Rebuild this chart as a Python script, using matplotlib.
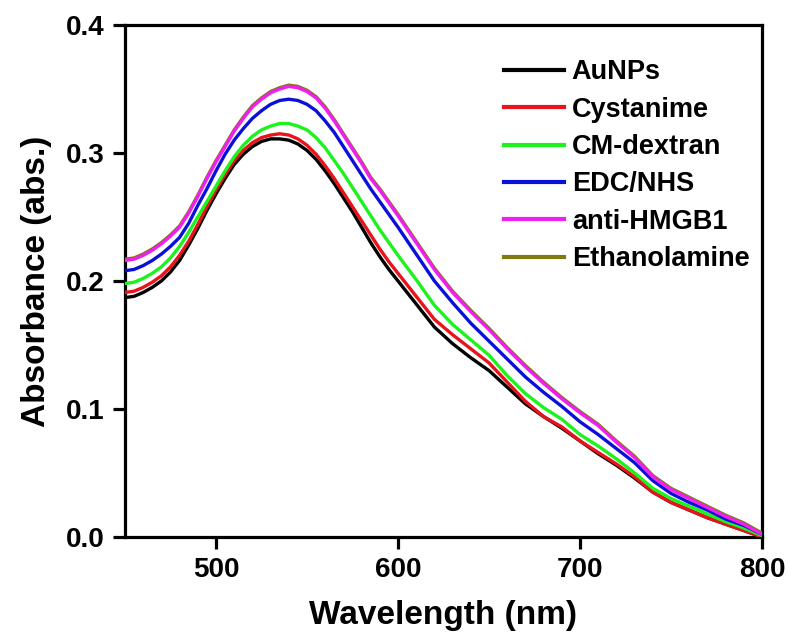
import numpy as np
import matplotlib
matplotlib.use("Agg")
import matplotlib.pyplot as plt

plt.rcParams['font.family'] = ['Liberation Sans', 'DejaVu Sans']
plt.rcParams['font.weight'] = 'bold'

# 5 nm steps up to 600 nm, then 10 nm
wavelength = list(range(450, 600, 5)) + list(range(600, 801, 10))

aunps = [0.187, 0.188, 0.191, 0.195, 0.200, 0.207, 0.216, 0.228, 0.241, 0.255,
         0.268, 0.280, 0.291, 0.299, 0.305, 0.309, 0.311, 0.311, 0.310, 0.307,
         0.302, 0.295, 0.286, 0.276, 0.265, 0.254, 0.242, 0.230, 0.219, 0.209,
         0.200, 0.182, 0.164, 0.151, 0.140, 0.130, 0.117, 0.104, 0.094, 0.085,
         0.075, 0.065, 0.056, 0.046, 0.035, 0.027, 0.021, 0.015, 0.010, 0.005,
         0.000]
cystanime = [0.191, 0.192, 0.195, 0.199, 0.204, 0.211, 0.220, 0.231, 0.244, 0.258,
             0.271, 0.283, 0.294, 0.302, 0.308, 0.312, 0.314, 0.315, 0.314, 0.311,
             0.306, 0.299, 0.290, 0.280, 0.269, 0.258, 0.247, 0.236, 0.225, 0.215,
             0.206, 0.188, 0.170, 0.158, 0.147, 0.136, 0.121, 0.106, 0.094, 0.086,
             0.075, 0.066, 0.057, 0.047, 0.035, 0.027, 0.021, 0.015, 0.010, 0.005,
             0.000]
cm_dextran = [0.198, 0.199, 0.202, 0.206, 0.211, 0.218, 0.227, 0.238, 0.250, 0.262,
              0.274, 0.286, 0.297, 0.306, 0.313, 0.318, 0.321, 0.323, 0.323, 0.321,
              0.318, 0.312, 0.304, 0.294, 0.284, 0.273, 0.262, 0.251, 0.240, 0.230,
              0.220, 0.201, 0.181, 0.166, 0.154, 0.142, 0.126, 0.112, 0.101, 0.092,
              0.080, 0.071, 0.061, 0.050, 0.038, 0.030, 0.024, 0.018, 0.012, 0.007,
              0.001]
edc_nhs = [0.208, 0.209, 0.212, 0.216, 0.221, 0.227, 0.234, 0.245, 0.259, 0.272,
           0.286, 0.299, 0.310, 0.319, 0.327, 0.333, 0.338, 0.341, 0.342, 0.341,
           0.338, 0.333, 0.325, 0.316, 0.305, 0.294, 0.283, 0.272, 0.262, 0.252,
           0.242, 0.221, 0.200, 0.183, 0.167, 0.153, 0.139, 0.125, 0.113, 0.102,
           0.090, 0.080, 0.069, 0.058, 0.044, 0.034, 0.027, 0.021, 0.014, 0.009,
           0.002]
anti_hmgb1 = [0.216, 0.217, 0.220, 0.224, 0.229, 0.235, 0.242, 0.253, 0.266, 0.280,
              0.293, 0.305, 0.317, 0.327, 0.336, 0.342, 0.347, 0.350, 0.352, 0.351,
              0.348, 0.343, 0.335, 0.325, 0.314, 0.303, 0.292, 0.280, 0.271, 0.261,
              0.251, 0.230, 0.209, 0.191, 0.176, 0.162, 0.147, 0.133, 0.120, 0.108,
              0.097, 0.087, 0.074, 0.062, 0.047, 0.037, 0.030, 0.023, 0.016, 0.010,
              0.002]
ethanolamine = [0.217, 0.218, 0.221, 0.225, 0.230, 0.236, 0.243, 0.254, 0.267, 0.281,
                0.294, 0.306, 0.318, 0.328, 0.337, 0.343, 0.348, 0.351, 0.353, 0.352,
                0.349, 0.344, 0.336, 0.326, 0.315, 0.304, 0.293, 0.281, 0.272, 0.262,
                0.252, 0.231, 0.210, 0.192, 0.177, 0.163, 0.148, 0.134, 0.121, 0.109,
                0.098, 0.088, 0.075, 0.063, 0.048, 0.038, 0.031, 0.024, 0.017, 0.011,
                0.003]

labels = ['AuNPs', 'Cystanime', 'CM-dextran', 'EDC/NHS', 'anti-HMGB1', 'Ethanolamine']
colors = ['#000000', '#e8141b', '#1cf31c', '#0a10d8', '#f01ef0', '#807a10']
series = [aunps, cystanime, cm_dextran, edc_nhs, anti_hmgb1, ethanolamine]
# ethanolamine sits just under anti-HMGB1, only its edge shows
zorders = [2, 3, 4, 5, 7, 6]

fig = plt.figure(figsize=(7.88, 6.4), dpi=100)
ax = fig.add_axes([0.1586, 0.161, 0.8084, 0.800])

for y, lab, c, z in zip(series, labels, colors, zorders):
    ax.plot(wavelength, y, color=c, lw=2.4, label=lab, zorder=z,
            solid_joinstyle='round')

ax.set_xlim(450, 800)
ax.set_ylim(0, 0.4)
ax.set_xticks([500, 600, 700, 800])
ax.set_yticks([0.0, 0.1, 0.2, 0.3, 0.4])
ax.set_yticklabels(['0.0', '0.1', '0.2', '0.3', '0.4'])

for s in ax.spines.values():
    s.set_linewidth(2.3)
ax.tick_params(direction='out', length=8.5, width=2.3, labelsize=20, pad=6,
               top=False, right=False)
for t in ax.get_xticklabels() + ax.get_yticklabels():
    t.set_fontweight('bold')

ax.set_xlabel('Wavelength (nm)', fontsize=24, fontweight='bold', labelpad=12)
ax.set_ylabel('Absorbance (abs.)', fontsize=24, fontweight='bold', labelpad=10)

leg = ax.legend(loc='upper right', bbox_to_anchor=(1.01, 0.97), frameon=False,
                prop={'size': 19.5, 'weight': 'bold'}, handlelength=2.2,
                handletextpad=0.3, labelspacing=0.42, borderaxespad=0.3)
for h in leg.get_lines():
    h.set_linewidth(3)

fig.savefig('out.png', dpi=100)
